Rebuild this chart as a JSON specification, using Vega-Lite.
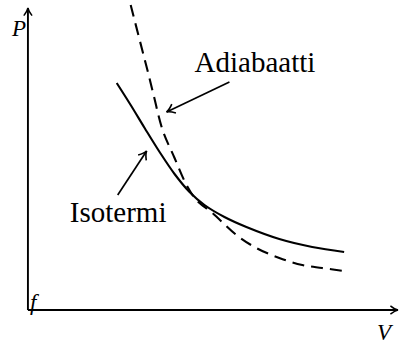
{
  "$schema": "https://vega.github.io/schema/vega-lite/v6.json",
  "width": 401,
  "height": 345,
  "autosize": {"type": "fit", "contains": "padding"},
  "padding": 0,
  "background": "white",
  "config": {"view": {"stroke": null}},
  "datasets": {
    "isotherm": [
      {"V": 8.9, "P": 22.7}, {"V": 10.3, "P": 20.5}, {"V": 11.7, "P": 18.2},
      {"V": 13.2, "P": 15.8}, {"V": 14.7, "P": 13.6}, {"V": 16.2, "P": 11.8},
      {"V": 17.7, "P": 10.5}, {"V": 19.7, "P": 9.3}, {"V": 21.9, "P": 8.3},
      {"V": 25.2, "P": 7.1}, {"V": 28.5, "P": 6.3}, {"V": 31.7, "P": 5.8}
    ],
    "adiabat": [
      {"V": 10.3, "P": 30.5}, {"V": 11.2, "P": 27.0}, {"V": 11.9, "P": 24.3},
      {"V": 12.6, "P": 21.5}, {"V": 13.5, "P": 18.0}, {"V": 14.7, "P": 15.2},
      {"V": 15.9, "P": 12.5}, {"V": 16.9, "P": 11.0}, {"V": 18.5, "P": 9.7},
      {"V": 20.9, "P": 7.5}, {"V": 22.9, "P": 6.2}, {"V": 25.2, "P": 5.2},
      {"V": 27.5, "P": 4.5}, {"V": 29.5, "P": 4.2}, {"V": 31.7, "P": 3.9}
    ],
    "axes": [
      {"name": "P-axis", "V": 0, "P": 0, "V2": 0, "P2": 30.2},
      {"name": "V-axis", "V": 0, "P": 0, "V2": 37.1, "P2": 0}
    ],
    "pointers": [
      {"name": "Adiabaatti", "V": 20.2, "P": 22.8, "V2": 13.9, "P2": 19.8},
      {"name": "Isotermi", "V": 9.0, "P": 11.5, "V2": 11.9, "P2": 15.9}
    ],
    "symbols": [
      {"text": "P", "V": -1.6, "P": 27.4},
      {"text": "V", "V": 35.0, "P": -3.0},
      {"text": "f", "V": 0.2, "P": 0.0}
    ],
    "labels": [
      {"text": "Adiabaatti", "V": 16.7, "P": 23.8},
      {"text": "Isotermi", "V": 4.2, "P": 8.8}
    ]
  },
  "encoding": {
    "x": {"field": "V", "type": "quantitative", "axis": null,
          "scale": {"domain": [-2.8, 37.3], "nice": false, "zero": false}},
    "y": {"field": "P", "type": "quantitative", "axis": null,
          "scale": {"domain": [-3.5, 31.0], "nice": false, "zero": false}}
  },
  "layer": [
    {
      "data": {"name": "axes"},
      "mark": {"type": "rule", "color": "black", "strokeWidth": 1.9},
      "encoding": {"x2": {"field": "V2"}, "y2": {"field": "P2"}}
    },
    {
      "data": {"name": "axes"},
      "transform": [{"calculate": "atan2(-(datum.P2 - datum.P), datum.V2 - datum.V) * 180 / PI", "as": "dir"}],
      "mark": {"type": "point", "shape": "M-1,-0.55 Q-0.4,-0.08 0,0 Q-0.4,0.08 -1,0.55", "filled": false,
               "stroke": "black", "strokeWidth": 1.4, "size": 230, "opacity": 1},
      "encoding": {"x": {"field": "V2", "type": "quantitative"}, "y": {"field": "P2", "type": "quantitative"},
                   "angle": {"field": "dir", "type": "quantitative", "scale": null}}
    },
    {
      "data": {"name": "isotherm"},
      "mark": {"type": "line", "color": "black", "strokeWidth": 2.1, "interpolate": "catmull-rom"}
    },
    {
      "data": {"name": "adiabat"},
      "mark": {"type": "line", "color": "black", "strokeWidth": 2.1, "interpolate": "catmull-rom", "strokeDash": [12, 7]}
    },
    {
      "data": {"name": "pointers"},
      "mark": {"type": "rule", "color": "black", "strokeWidth": 1.7},
      "encoding": {"x2": {"field": "V2"}, "y2": {"field": "P2"}}
    },
    {
      "data": {"name": "pointers"},
      "transform": [{"calculate": "atan2(-(datum.P2 - datum.P), datum.V2 - datum.V) * 180 / PI", "as": "dir"}],
      "mark": {"type": "point", "shape": "M-1,-0.6 Q-0.4,-0.08 0,0 Q-0.4,0.08 -1,0.6", "filled": false,
               "stroke": "black", "strokeWidth": 1.6, "size": 260, "opacity": 1},
      "encoding": {"x": {"field": "V2", "type": "quantitative"}, "y": {"field": "P2", "type": "quantitative"},
                   "angle": {"field": "dir", "type": "quantitative", "scale": null}}
    },
    {
      "data": {"name": "symbols"},
      "mark": {"type": "text", "font": "Liberation Serif", "fontStyle": "italic", "fontSize": 23,
               "align": "left", "baseline": "alphabetic", "color": "black"},
      "encoding": {"text": {"field": "text"}}
    },
    {
      "data": {"name": "labels"},
      "mark": {"type": "text", "font": "Liberation Serif", "fontSize": 29,
               "align": "left", "baseline": "alphabetic", "color": "black"},
      "encoding": {"text": {"field": "text"}}
    }
  ]
}
